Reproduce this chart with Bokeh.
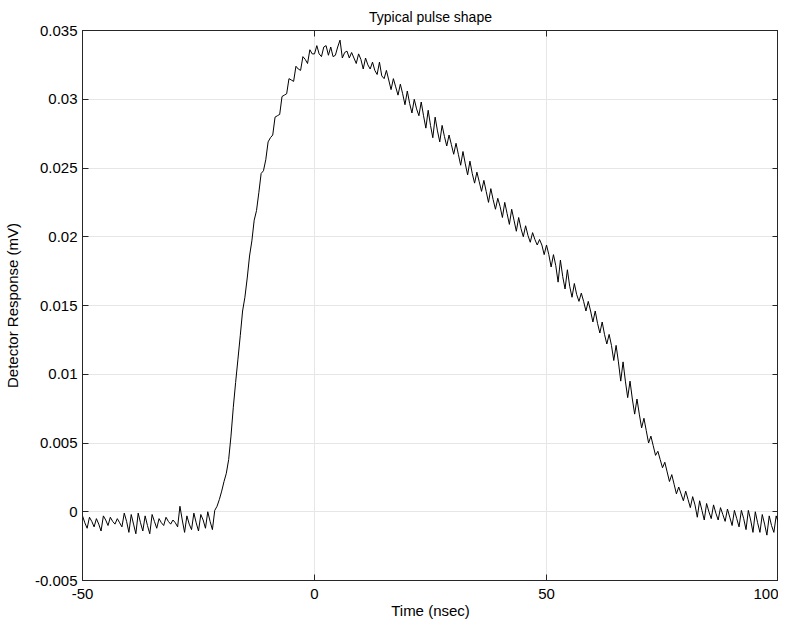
from bokeh.plotting import figure
from bokeh.models import Range1d, FixedTicker, LinearAxis
from bokeh.embed import file_html
from bokeh.resources import INLINE

title_text = "Typical pulse shape"
x_label = "Time (nsec)"
y_label = "Detector Response (mV)"

# sampled trace: first sample time and sample spacing (nsec)
t_start = -50.0
t_step = 0.5
# detector response in units of 1e-4 mV, one value per 0.5 nsec sample (rows of 5 nsec)
response_1e4 = [
    -3, -8, -12, -4, -7, -11, -5, -9, -14, -3,          # -50
    -6, -10, -4, -7, -9, -5, -8, -11, -1, -7,           # -45
    -15, -2, -9, -16, -1, -8, -14, -3, -10, -16,        # -40
    -2, -7, -12, -5, -8, -10, -4, -7, -9, -6,           # -35
    -8, -11, 4, -6, -15, -3, -9, -13, -1, -8,           # -30
    -14, -2, -6, -12, 0, -7, -13, 1, 4, 9,              # -25
    15, 22, 28, 38, 55, 76, 94, 111, 128, 146,          # -20
    156, 170, 186, 197, 212, 219, 232, 246, 248, 256,   # -15
    269, 272, 274, 287, 288, 289, 302, 303, 304, 315,   # -10
    314, 313, 324, 322, 321, 331, 329, 326, 336, 333,   # -5
    333, 339, 333, 331, 338, 339, 332, 338, 331, 332,   # 0
    338, 343, 330, 334, 335, 330, 334, 330, 326, 333,   # 5
    329, 322, 330, 325, 322, 327, 321, 318, 327, 317,   # 10
    315, 321, 314, 307, 315, 309, 303, 311, 304, 296,   # 15
    306, 297, 290, 300, 293, 288, 298, 288, 279, 292,   # 20
    281, 272, 287, 277, 269, 281, 273, 266, 274, 267,   # 25
    260, 268, 260, 252, 262, 253, 245, 255, 246, 239,   # 30
    247, 240, 233, 241, 233, 225, 235, 227, 220, 228,   # 35
    222, 214, 225, 217, 209, 220, 212, 204, 214, 206,   # 40
    200, 208, 201, 196, 203, 198, 194, 198, 194, 187,   # 45
    194, 187, 178, 187, 179, 167, 183, 171, 162, 176,   # 50
    164, 156, 166, 158, 153, 159, 153, 146, 153, 146,   # 55
    138, 146, 137, 130, 138, 129, 122, 129, 121, 110,   # 60
    121, 109, 95, 109, 95, 83, 95, 82, 71, 82,          # 65
    71, 61, 68, 59, 50, 55, 48, 41, 44, 38,             # 70
    32, 36, 29, 22, 27, 20, 13, 18, 13, 8,              # 75
    15, 9, 3, 11, 5, -4, 8, 1, -6, 6,                   # 80
    0, -5, 5, -1, -6, 3, -2, -7, 2, -4,                 # 85
    -10, 1, -5, -11, 1, -5, -13, 1, -6, -15,            # 90
    0, -8, -15, -2, -9, -17, -3, -10, -15, -3,          # 95
    -8,                                                 # 100
]

x_ticks = [-50, 0, 50, 100]
x_tick_labels = ["-50", "0", "50", "100"]
y_ticks = [-0.005, 0.0, 0.005, 0.01, 0.015, 0.02, 0.025, 0.03, 0.035]
y_tick_labels = ["-0.005", "0", "0.005", "0.01", "0.015", "0.02", "0.025", "0.03", "0.035"]

time_ns = [t_start + i * t_step for i in range(len(response_1e4))]
response = [v * 1e-4 for v in response_1e4]

FONT = "Liberation Sans"

p = figure(frame_width=696, frame_height=550,
           x_range=Range1d(-50, 100), y_range=Range1d(-0.005, 0.035),
           output_backend="svg", toolbar_location=None,
           min_border_left=0, min_border_right=0,
           min_border_top=0, min_border_bottom=0)
p.background_fill_color = "white"
p.border_fill_color = "white"
p.outline_line_color = "#262626"
p.outline_line_width = 1

p.title.text = title_text
p.title.align = "center"
p.title.text_font = FONT
p.title.text_font_size = "14px"
p.title.text_font_style = "normal"
p.title.text_color = "#000000"
p.title.standoff = 12

p.line(time_ns, response, line_color="#000000", line_width=1)

p.xaxis.ticker = FixedTicker(ticks=x_ticks)
p.yaxis.ticker = FixedTicker(ticks=y_ticks)
p.xaxis.major_label_overrides = dict(zip(x_ticks, x_tick_labels))
p.yaxis.major_label_overrides = dict(zip(y_ticks, y_tick_labels))

for ax in (p.xaxis[0], p.yaxis[0]):
    ax.major_tick_in = 6
    ax.major_tick_out = 0
    ax.minor_tick_line_color = None
    ax.axis_line_color = "#262626"
    ax.major_tick_line_color = "#262626"
    ax.major_label_text_font = FONT
    ax.major_label_text_font_size = "15px"
    ax.major_label_text_color = "#000000"
    ax.axis_label_text_font = FONT
    ax.axis_label_text_font_size = "15px"
    ax.axis_label_text_font_style = "normal"
    ax.axis_label_text_color = "#000000"

p.xaxis.axis_label = x_label
p.yaxis.axis_label = y_label
p.xaxis.major_label_standoff = 8
p.yaxis.major_label_standoff = 5
p.xaxis.axis_label_standoff = 0
p.yaxis.axis_label_standoff = 11

# box ticks on the right and top, without labels
for side, ticks in (("right", y_ticks), ("above", x_ticks)):
    ax = LinearAxis(ticker=FixedTicker(ticks=ticks),
                    major_label_overrides={t: "" for t in ticks})
    ax.major_tick_in = 6
    ax.major_tick_out = 0
    ax.minor_tick_line_color = None
    ax.axis_line_color = "#262626"
    ax.major_tick_line_color = "#262626"
    ax.major_label_standoff = 0
    ax.major_label_text_font_size = "1px"
    p.add_layout(ax, side)

p.xgrid.ticker = FixedTicker(ticks=x_ticks)
p.ygrid.ticker = FixedTicker(ticks=y_ticks)
p.xgrid.grid_line_color = "#e6e6e6"
p.ygrid.grid_line_color = "#e6e6e6"

open("out.html", "w").write(file_html(p, INLINE))
